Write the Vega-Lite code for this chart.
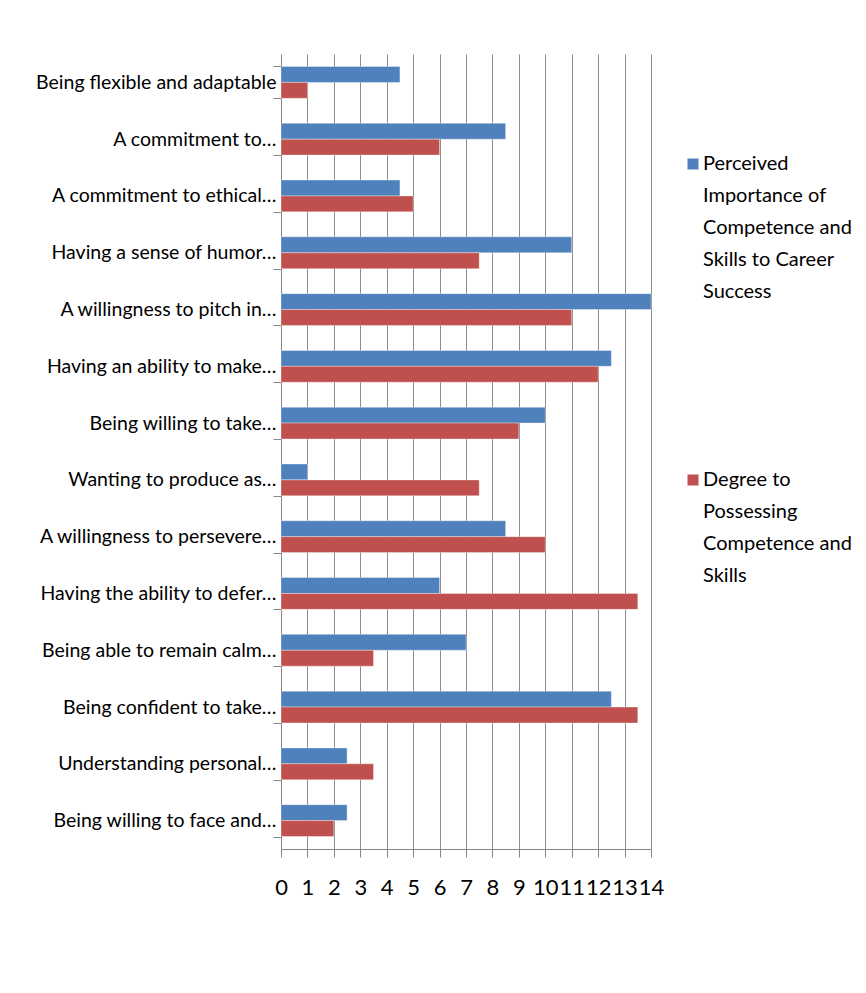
{
  "$schema": "https://vega.github.io/schema/vega-lite/v6.json",
  "width": 370,
  "height": 795,
  "autosize": {"type": "none"},
  "padding": {"left": 281, "top": 54, "right": 215, "bottom": 144},
  "background": "white",
  "config": {"view": {"stroke": null}, "font": "Lato"},
  "data": {"values": [
    {"item": "Being flexible and adaptable", "series": "Perceived", "value": 4.5},
    {"item": "Being flexible and adaptable", "series": "Degree", "value": 1},
    {"item": "A commitment to…", "series": "Perceived", "value": 8.5},
    {"item": "A commitment to…", "series": "Degree", "value": 6},
    {"item": "A commitment to ethical…", "series": "Perceived", "value": 4.5},
    {"item": "A commitment to ethical…", "series": "Degree", "value": 5},
    {"item": "Having a sense of humor…", "series": "Perceived", "value": 11},
    {"item": "Having a sense of humor…", "series": "Degree", "value": 7.5},
    {"item": "A willingness to pitch in…", "series": "Perceived", "value": 14},
    {"item": "A willingness to pitch in…", "series": "Degree", "value": 11},
    {"item": "Having an ability to make…", "series": "Perceived", "value": 12.5},
    {"item": "Having an ability to make…", "series": "Degree", "value": 12},
    {"item": "Being willing to take…", "series": "Perceived", "value": 10},
    {"item": "Being willing to take…", "series": "Degree", "value": 9},
    {"item": "Wanting to produce as…", "series": "Perceived", "value": 1},
    {"item": "Wanting to produce as…", "series": "Degree", "value": 7.5},
    {"item": "A willingness to persevere…", "series": "Perceived", "value": 8.5},
    {"item": "A willingness to persevere…", "series": "Degree", "value": 10},
    {"item": "Having the ability to defer…", "series": "Perceived", "value": 6},
    {"item": "Having the ability to defer…", "series": "Degree", "value": 13.5},
    {"item": "Being able to remain calm…", "series": "Perceived", "value": 7},
    {"item": "Being able to remain calm…", "series": "Degree", "value": 3.5},
    {"item": "Being confident to take…", "series": "Perceived", "value": 12.5},
    {"item": "Being confident to take…", "series": "Degree", "value": 13.5},
    {"item": "Understanding personal…", "series": "Perceived", "value": 2.5},
    {"item": "Understanding personal…", "series": "Degree", "value": 3.5},
    {"item": "Being willing to face and…", "series": "Perceived", "value": 2.5},
    {"item": "Being willing to face and…", "series": "Degree", "value": 2}
  ]},
  "mark": {"type": "bar", "stroke": "white", "strokeOpacity": 0.35, "strokeWidth": 1},
  "encoding": {
    "y": {
      "field": "item", "type": "nominal", "sort": null,
      "scale": {"paddingInner": 0.44, "paddingOuter": 0.22},
      "axis": {"title": null, "tickBand": "extent", "tickSize": 8, "labelPadding": -3,
               "labelFontSize": 19.5, "labelColor": "black", "labelLimit": 0,
               "domainColor": "#868686", "tickColor": "#868686", "grid": false}
    },
    "x": {
      "field": "value", "type": "quantitative",
      "scale": {"domain": [0, 14], "nice": false},
      "axis": {"title": null, "values": [0,1,2,3,4,5,6,7,8,9,10,11,12,13,14],
               "grid": true, "gridColor": "#8c8c8c", "domainColor": "#868686", "tickColor": "#868686",
               "tickSize": 8, "labelPadding": 20, "labelFontSize": 22, "labelColor": "black",
               "labelFlush": false, "labelOverlap": false}
    },
    "yOffset": {"field": "series", "sort": ["Perceived", "Degree"]},
    "color": {
      "field": "series",
      "scale": {"domain": ["Perceived", "Degree"], "range": ["#4F81BD", "#C0504D"]},
      "legend": {
        "title": null, "orient": "none", "legendX": 402, "legendY": 100,
        "symbolType": "square", "symbolSize": 121, "symbolStrokeWidth": 0,
        "labelFontSize": 20, "labelColor": "black", "labelLimit": 0, "labelOffset": 0,
        "rowPadding": 168,
        "labelExpr": "datum.value == 'Perceived' ? ['Perceived', 'Importance of', 'Competence and', 'Skills to Career', 'Success'] : ['Degree to', 'Possessing', 'Competence and', 'Skills']",
        "encoding": {"labels": {"lineHeight": {"value": 32}}}
      }
    }
  }
}
